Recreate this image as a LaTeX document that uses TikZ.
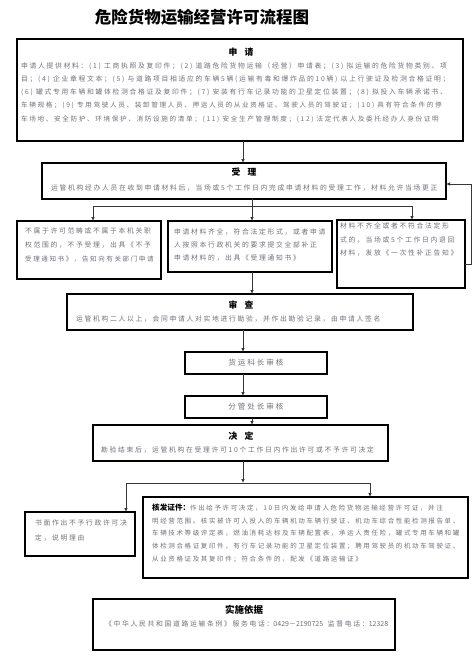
\documentclass[tikz,border=0pt]{standalone}
\usepackage{fontspec}
\setmainfont{Noto Sans CJK SC}
\newfontfamily\cjk{Noto Sans CJK SC}
\newfontfamily\cjksp[LetterSpace=25]{Noto Sans CJK SC}
\usetikzlibrary{arrows.meta}
\definecolor{txtgray}{RGB}{112,112,122}
\definecolor{linegray}{RGB}{55,55,55}
\newcommand\plainnum[1]{{\cjk\fontsize{7}{8}\selectfont #1}}
\tikzset{
 box/.style={draw=black, line width=1.1pt, inner sep=0pt, outer sep=0pt, anchor=north west},
 body/.style={font=\cjksp\fontsize{6.8}{8}\selectfont, text=txtgray, inner sep=0pt, anchor=west, text height=5.6pt, text depth=1.2pt},
 bodyS/.style={body, font=\cjksp\fontsize{6.6}{8}\selectfont},
 bodyR/.style={body, font=\cjksp\fontsize{6.5}{8}\selectfont},
 head/.style={font=\cjk\bfseries\fontsize{8.8}{10}\selectfont, inner sep=0pt},
 conn/.style={draw=linegray, line width=0.9pt},
 arr/.style={conn, -{Latex[length=4pt,width=3.6pt]}},
}
\begin{document}
\begin{tikzpicture}[x=1pt,y=-1pt]
\fill[white] (0,0) rectangle (476,657);
\useasboundingbox (0,0) rectangle (476,657);

% title
\node[font=\cjk\bfseries\fontsize{16.5}{18}\selectfont, inner sep=0pt] (title) at (202,17) {危险货物运输经营许可流程图};

% boxes
\node[box, minimum width=446pt, minimum height=102pt] (shenqing) at (17,39) {};
\node[box, minimum width=404pt, minimum height=36pt] (shouli) at (42,163) {};
\node[box, minimum width=144pt, minimum height=58pt] (b1) at (17,221) {};
\node[box, minimum width=164pt, minimum height=51pt] (b2) at (168,221) {};
\node[box, minimum width=128pt, minimum height=68pt] (b3) at (337,220) {};
\node[box, minimum width=346pt, minimum height=36pt] (shencha) at (67,294) {};
\node[box, minimum width=142pt, minimum height=22pt] (huoyun) at (185,352) {};
\node[box, minimum width=142pt, minimum height=22pt] (fenguan) at (185,396) {};
\node[box, minimum width=295pt, minimum height=36pt] (jueding) at (93,425) {};
\node[box, minimum width=110pt, minimum height=44pt] (bL) at (25,512) {};
\node[box, minimum width=325pt, minimum height=81pt] (bR) at (143,497) {};
\node[box, minimum width=302pt, minimum height=51pt] (yiju) at (93,599) {};

% 申请
\node[head] (sqh) at (241,52) {申\hspace{0.8em}请};
\node[body] (sq1) at (21,66) {申请人提供材料：(1) 工商执照及复印件；(2) 道路危险货物运输（经营）申请表；(3) 拟运输的危险货物类别、项};
\node[body] (sq2) at (21,79) {目；(4) 企业章程文本；(5) 与道路项目相适应的车辆5辆(运输有毒和爆炸品的10辆) 以上行驶证及检测合格证明；};
\node[body] (sq3) at (21,92) {(6) 罐式专用车辆和罐体检测合格证及复印件；(7) 安装有行车记录功能的卫星定位装置；(8) 拟投入车辆承诺书、};
\node[bodyS] (sq4) at (21,105) {车辆规格；(9) 专用驾驶人员、装卸管理人员、押运人员的从业资格证、驾驶人员的驾驶证；(10) 具有符合条件的停};
\node[bodyS] (sq5) at (21,119) {车场地、安全防护、环境保护、消防设施的清单；(11) 安全生产管理制度；(12) 法定代表人及委托经办人身份证明};

% 受理
\node[head] (slh) at (244,172) {受\hspace{0.8em}理};
\node[body] (sl1) at (51,188) {运管机构经办人员在收到申请材料后，当场或5个工作日内完成申请材料的受理工作，材料允许当场更正};

% three outcomes
\node[body] (b1a) at (25,231) {不属于许可范畴或不属于本机关职};
\node[body] (b1b) at (25,245) {权范围的，不予受理，出具《不予};
\node[bodyR] (b1c) at (25,259) {受理通知书》，告知向有关部门申请};
\node[body] (b2a) at (174,232) {申请材料齐全，符合法定形式，或者申请};
\node[body] (b2b) at (174,245) {人按照本行政机关的要求提交全部补正};
\node[body] (b2c) at (174,258) {申请材料的，出具《受理通知书》};
\node[body] (b3a) at (340,226) {材料不齐全或者不符合法定形};
\node[body] (b3b) at (340,240) {式的，当场或5个工作日内退回};
\node[body] (b3c) at (340,253) {材料，发放《一次性补正告知》};

% 审查
\node[head] (sch) at (241,305) {审\hspace{0.8em}查};
\node[body] (sc1) at (76,319) {运管机构二人以上，会同申请人对实地进行勘验，并作出勘验记录，由申请人签名};

\node[body, anchor=center, font=\cjksp\fontsize{7.6}{9}\selectfont] (hyt) at (256,363) {货运科长审核};
\node[body, anchor=center, font=\cjksp\fontsize{7.6}{9}\selectfont] (fgt) at (256,407) {分管处长审核};

% 决定
\node[head] (jdh) at (241,436) {决\hspace{0.8em}定};
\node[body] (jd1) at (101,450) {勘验结束后，运管机构在受理许可10个工作日内作出许可或不予许可决定};

\node[body] (bLa) at (35,523) {书面作出不予行政许可决};
\node[body] (bLb) at (35,538) {定，说明理由};

\node[bodyR] (bRa) at (152,508) {{\cjk\bfseries\color{black}\fontsize{7.6}{9}\selectfont 核发证件：}作出给予许可决定，10日内发给申请人危险货物运输经营许可证，并注};
\node[bodyR] (bRb) at (152,521) {明经营范围。核实被许可人投入的车辆机动车辆行驶证、机动车综合性能检测报告单、};
\node[bodyR] (bRc) at (152,533) {车辆技术等级评定表，燃油消耗达标及车辆配置表，承运人责任险，罐式专用车辆和罐};
\node[bodyR] (bRd) at (152,546) {体检测合格证复印件，有行车记录功能的卫星定位装置；聘用驾驶员的机动车驾驶证、};
\node[bodyR] (bRe) at (152,559) {从业资格证及其复印件；符合条件的，配发《道路运输证》};

% 实施依据
\node[head, font=\cjk\bfseries\fontsize{9.5}{11}\selectfont] (yjh) at (244,610) {实施依据};
\node[body] (yj1) at (105,624) {《中华人民共和国道路运输条例》服务电话：\plainnum{0429－2190725}\hspace{0.7em}监督电话：\plainnum{12328}};

% connectors
\coordinate (xa) at (243,0);
\coordinate (xb) at (252,0);
\draw[arr] (shenqing.south -| xa) -- (shouli.north -| xa);
\coordinate (jn) at (252,206);
\coordinate (jl) at (93,206);
\coordinate (jr) at (412,206);
\draw[conn] (shouli.south -| jn) -- (jn);
\draw[conn] (jl) -- (jr);
\draw[arr] (jl) -- (b1.north -| jl);
\draw[arr] (jn) -- (b2.north -| jn);
\draw[arr] (jr) -- (b3.north -| jr);
\coordinate (fb1) at (471,264);
\coordinate (fb2) at (471,184);
\draw[arr] (b3.east |- fb1) -- (fb1) -- (fb2) -- (shouli.east |- fb2);
\draw[arr] (b2.south -| xb) -- (shencha.north -| xb);
\draw[arr] (shencha.south -| xa) -- (huoyun.north -| xa);
\draw[arr] (huoyun.south -| xa) -- (fenguan.north -| xa);
\draw[arr] (fenguan.south -| xb) -- (jueding.north -| xb);
\coordinate (dm) at (243,483);
\coordinate (dl) at (126,483);
\coordinate (dr) at (370,483);
\draw[arr] (jueding.south -| dm) -- (dm);
\draw[conn] (dl) -- (dr);
\draw[arr] (dl) -- (bL.north -| dl);
\draw[arr] (dr) -- (bR.north -| dr);
\end{tikzpicture}
\end{document}
